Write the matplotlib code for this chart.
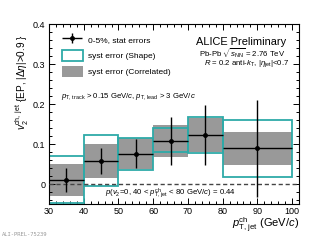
import matplotlib
matplotlib.use("Agg")
import matplotlib.pyplot as plt
from matplotlib.patches import Patch
from matplotlib.legend_handler import HandlerErrorbar
from matplotlib.ticker import MultipleLocator
import numpy as np

plt.rcParams['font.family'] = ['Liberation Sans', 'DejaVu Sans']
plt.rcParams['mathtext.fontset'] = 'custom'
plt.rcParams['mathtext.rm'] = 'Liberation Sans'
plt.rcParams['mathtext.it'] = 'Liberation Sans:italic'
plt.rcParams['mathtext.bf'] = 'Liberation Sans:bold'

# Data
bin_lo = [30, 40, 50, 60, 70, 80]
bin_hi = [40, 50, 60, 70, 80, 100]
v2 = [0.010, 0.058, 0.076, 0.108, 0.122, 0.089]
stat_err = [0.030, 0.032, 0.036, 0.060, 0.075, 0.122]
shape_err_up = [0.061, 0.064, 0.040, 0.031, 0.045, 0.071]
shape_err_down = [0.057, 0.064, 0.040, 0.029, 0.045, 0.071]
corr_err = [0.040, 0.043, 0.039, 0.040, 0.043, 0.042]

lo = np.array(bin_lo, float)
hi = np.array(bin_hi, float)
cen = (lo + hi) / 2
wid = hi - lo
y = np.array(v2)
se = np.array(stat_err)
shu = np.array(shape_err_up)
shd = np.array(shape_err_down)
co = np.array(corr_err)

teal = '#2eaaa8'
gray = '#999999'

fig = plt.figure(figsize=(3.32, 2.40), dpi=100)
ax = fig.add_axes([49/332, 1-204/240, 250/332, 180/240])

ax.bar(cen, 2*co, bottom=y-co, width=wid, color=gray, edgecolor='none', zorder=1)
ax.bar(cen, shu+shd, bottom=y-shd, width=wid, facecolor='none', edgecolor=teal,
       linewidth=1.3, zorder=2)
ax.axhline(0, color='#444444', linestyle=(0, (3, 2)), linewidth=1.0, zorder=3)
ax.errorbar(cen, y, xerr=wid/2, yerr=se, fmt='o', color='black', markersize=2.5,
            elinewidth=1.0, capsize=0, zorder=4)

ax.set_xlim(30, 102)
ax.set_ylim(-0.05, 0.4)
ax.xaxis.set_major_locator(MultipleLocator(10))
ax.xaxis.set_minor_locator(MultipleLocator(2))
ax.yaxis.set_major_locator(MultipleLocator(0.1))
ax.yaxis.set_minor_locator(MultipleLocator(0.02))
ax.set_xticks([30, 40, 50, 60, 70, 80, 90, 100])
ax.set_xticklabels(['30', '40', '50', '60', '70', '80', '90', '100'])
ax.set_yticks([0, 0.1, 0.2, 0.3, 0.4])
ax.set_yticklabels(['0', '0.1', '0.2', '0.3', '0.4'])
ax.tick_params(which='both', direction='in', top=True, right=True, labelsize=6.5,
               width=0.7, pad=2.5)
ax.tick_params(which='major', length=4.5)
ax.tick_params(which='minor', length=2.2)
for s in ax.spines.values():
    s.set_linewidth(0.8)

# Legend
h_stat = ax.errorbar([], [], xerr=[], yerr=[], fmt='o', color='black', markersize=2.5,
                     elinewidth=1.0, capsize=0)
h_shape = Patch(facecolor='white', edgecolor=teal, linewidth=1.3)
h_corr = Patch(facecolor=gray, edgecolor='none')
ax.legend([h_stat, h_shape, h_corr],
          ['0-5%, stat errors', 'syst error (Shape)', 'syst error (Correlated)'],
          loc='upper left', bbox_to_anchor=(62/332, 1-34.5/240), bbox_transform=fig.transFigure,
          frameon=False, fontsize=6, borderpad=0, borderaxespad=0,
          handlelength=2.5, handleheight=1.56, labelspacing=0.66, handletextpad=0.6,
          handler_map={type(h_stat): HandlerErrorbar(xerr_size=1.2, yerr_size=0.6)})

fig.text(61/332, 1-97/240,
         r'$p_{\rm T,\,track}$ > 0.15 GeV/$c$, $p_{\rm T,\,lead}$ > 3 GeV/$c$',
         fontsize=5.6, ha='left', va='center')

fig.text(286/332, 1-42/240, 'ALICE Preliminary', fontsize=7.9, ha='right', va='center')
fig.text(285/332, 1-53/240, r'Pb-Pb $\sqrt{s_{\rm NN}}$ = 2.76 TeV', fontsize=5.6,
         ha='right', va='center')
fig.text(289/332, 1-64/240, r'$R$ = 0.2 anti-$k_{\rm T}$, |$\eta_{\rm jet}$|<0.7',
         fontsize=5.6, ha='right', va='center')

fig.text(105/332, 1-193/240,
         r'$p$($v_{2}$=0, 40 < $p_{\rm T,\,jet}^{\rm ch}$ < 80 GeV/$c$) = 0.44',
         fontsize=5.6, ha='left', va='center')

fig.text(22/332, 1-34/240, r'$v_{2}^{\rm ch,\ jet}$ {EP, |$\Delta\eta$|>0.9 }',
         fontsize=7.2, rotation=90, ha='center', va='top')
fig.text(299/332, 1-225/240, r'$p_{\rm T,\,jet}^{\rm ch}$ (GeV/$c$)', fontsize=8,
         ha='right', va='center')

fig.text(2/332, 1-234/240, 'ALI-PREL-75239', fontsize=4, family='DejaVu Sans Mono',
         color='#999999', ha='left', va='center')

fig.savefig('out.png', dpi=100)
